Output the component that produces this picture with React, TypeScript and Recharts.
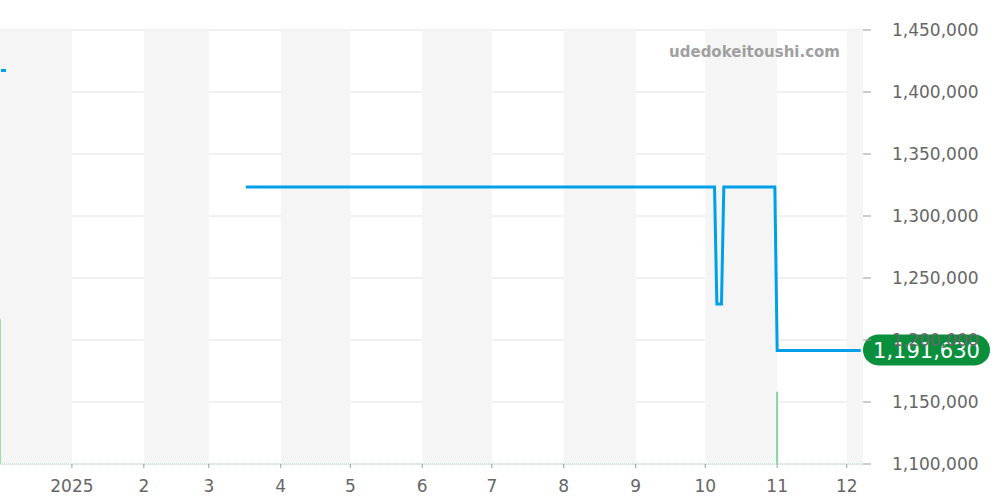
import {
  ComposedChart,
  Line,
  Bar,
  XAxis,
  YAxis,
  CartesianGrid,
  ReferenceArea,
  ReferenceLine,
} from "recharts";

// days counted from 2025-01-01 (day 0)
const priceDays = [75, 277, 278, 280, 281, 303, 304, 340];
const priceValues = [1323400, 1323400, 1229000, 1229000, 1323400, 1323400, 1191630, 1191630];

const volumeDays = [-31, 304];
const volumeValues = [2, 1];

const monthTicks = [0, 31, 59, 90, 120, 151, 181, 212, 243, 273, 304, 334];
const monthLabels = ["2025", "2", "3", "4", "5", "6", "7", "8", "9", "10", "11", "12"];

// shaded months: Dec 2024, Feb, Apr, Jun, Aug, Oct, Dec
const shadedBands: [number, number][] = [
  [-31, 0],
  [31, 59],
  [90, 120],
  [151, 181],
  [212, 243],
  [273, 304],
  [334, 341],
];

const priceTicks = [1100000, 1150000, 1200000, 1250000, 1300000, 1350000, 1400000, 1450000];
const lastPrice = 1191630;

type Row = { d: number; price?: number; vol?: number };

const rows: Row[] = [
  ...priceDays.map((d, i) => ({ d, price: priceValues[i] })),
  ...volumeDays.map((d, i) => ({ d, vol: volumeValues[i] })),
].sort((a, b) => a.d - b.d);

const fmt = (v: number) => v.toLocaleString("en-US");

function PriceTag(props: any) {
  const { viewBox } = props;
  const x = viewBox.x + viewBox.width;
  const y = viewBox.y;
  return (
    <g>
      <rect x={x} y={y - 16} width={127} height={31} rx={15.5} fill="#0a8f3c" />
      <text
        x={x + 63.5}
        y={y + 7.5}
        textAnchor="middle"
        fill="#ffffff"
        fontSize={21}
        fontFamily="DejaVu Sans"
      >
        {fmt(lastPrice)}
      </text>
    </g>
  );
}

export default function App() {
  return (
    <div style={{ position: "absolute", left: 0, top: 0, width: 1000, height: 500, background: "#fff" }}>
      <ComposedChart
        width={1000}
        height={500}
        data={rows}
        margin={{ top: 30, right: 0, left: 0, bottom: 0 }}
      >
        {shadedBands.map(([a, b], i) => (
          <ReferenceArea
            key={i}
            x1={a}
            x2={b}
            yAxisId="price"
            fill="#f5f5f5"
            fillOpacity={1}
            stroke="none"
          />
        ))}
        <CartesianGrid yAxisId="price" vertical={false} stroke="#e2e2e2" />
        <XAxis
          dataKey="d"
          type="number"
          domain={[-31, 341]}
          ticks={monthTicks}
          tickFormatter={(v: number) => monthLabels[monthTicks.indexOf(v)]}
          axisLine={false}
          tickLine={{ stroke: "#999" }}
          tickSize={4}
          tickMargin={12}
          height={36}
          tick={{ fill: "#666", fontSize: 17, fontFamily: "DejaVu Sans" }}
          allowDataOverflow
        />
        <YAxis
          yAxisId="price"
          orientation="right"
          domain={[1100000, 1450000]}
          ticks={priceTicks}
          tickFormatter={fmt}
          axisLine={false}
          tickLine={{ stroke: "#999" }}
          tickSize={8}
          width={137}
          tick={{ fill: "#666", fontSize: 17, fontFamily: "DejaVu Sans", textAnchor: "start" }}
          tickMargin={21}
        />
        <YAxis yAxisId="vol" hide domain={[0, 6]} />
        <ReferenceLine
          yAxisId="price"
          y={1100000}
          stroke="#a8dcb4"
          strokeDasharray="1 1"
        />
        <Bar
          yAxisId="vol"
          dataKey="vol"
          fill="#8fd6a0"
          barSize={2}
          isAnimationActive={false}
        />
        <Line
          yAxisId="price"
          dataKey="price"
          type="linear"
          stroke="#00a0e9"
          strokeWidth={3}
          dot={false}
          connectNulls
          isAnimationActive={false}
        />
        <ReferenceLine
          yAxisId="price"
          y={lastPrice}
          stroke="none"
          label={<PriceTag />}
        />
      </ComposedChart>
      <div
        style={{
          position: "absolute",
          right: 160,
          top: 43,
          fontFamily: "DejaVu Sans",
          fontWeight: "bold",
          fontSize: 15,
          color: "#a0a0a0",
        }}
      >
        udedokeitoushi.com
      </div>
      <div
        style={{
          position: "absolute",
          left: 1,
          top: 69,
          width: 5,
          height: 3,
          background: "#00a0e9",
        }}
      />
    </div>
  );
}
